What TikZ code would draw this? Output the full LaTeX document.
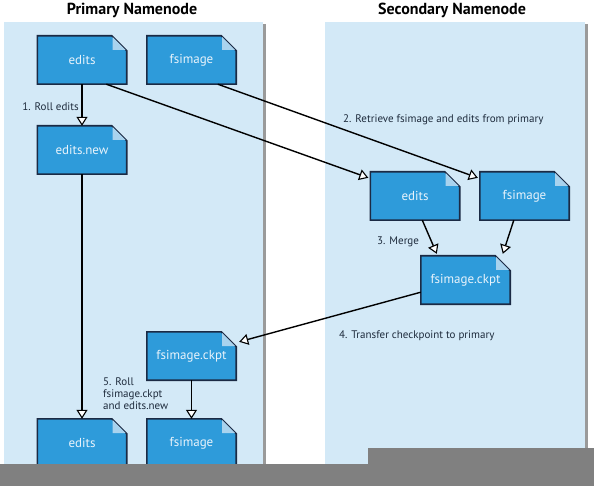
\documentclass[tikz,border=0pt]{standalone}
\usepackage{fontspec}
\setmainfont{PT Sans}
\usetikzlibrary{arrows.meta,calc,backgrounds}
\pgfdeclarelayer{mid}
\pgfsetlayers{background,mid,main}
\definecolor{panelblue}{HTML}{D3E9F7}
\definecolor{boxblue}{HTML}{2E9BDA}
\definecolor{boxline}{HTML}{1B2A44}
\definecolor{foldblue}{HTML}{A9D3EE}
\definecolor{doctext}{HTML}{E8F3FB}
\definecolor{labeltext}{HTML}{1E2B3C}
\definecolor{shadowgray}{HTML}{9A9A9A}
\definecolor{covergray}{HTML}{808080}
\tikzset{
  docbox/.style={minimum width=89pt, minimum height=48pt, inner sep=0pt, text=doctext, font=\fontsize{13}{15}\selectfont},
  lbl/.style={text=labeltext, inner sep=0pt, font=\fontsize{11}{12}\selectfont},
  ttl/.style={text=black, inner sep=0pt, font=\fontsize{16}{18}\selectfont\bfseries},
  arr/.style={draw=black, line width=1.4pt, -{Triangle[width=11pt,length=9pt,fill=white,line width=1.1pt]}}
}
\begin{document}
\begin{tikzpicture}[x=1pt,y=-1pt]
\useasboundingbox (0,0) rectangle (594,486);
\begin{pgfonlayer}{background}
  \fill[white] (0,0) rectangle (594,486);
  \fill[shadowgray] (263,24) rectangle (266,486);
  \fill[panelblue] (4,22) rectangle (263,486);
  \fill[shadowgray] (585,24) rectangle (588,486);
  \fill[panelblue] (325,22) rectangle (585,486);
\end{pgfonlayer}

\node[ttl] (t1) at (132,10) {Primary Namenode};
\node[ttl] (t2) at (452,10) {Secondary Namenode};

\node[docbox] (e1) at (82,60) {edits};
\node[docbox] (f1) at (191.5,60) {fsimage};
\node[docbox] (en) at (82,150) {edits.new};
\node[docbox] (e2) at (415,196) {edits};
\node[docbox] (f2) at (524.5,196) {fsimage};
\node[docbox] (ck2) at (465.5,280) {fsimage.ckpt};
\node[docbox] (ck1) at (191.5,356) {fsimage.ckpt};
\node[docbox] (e3) at (82,443) {edits};
\node[docbox] (f3) at (191.5,443) {fsimage};

\begin{pgfonlayer}{mid}
\foreach \n in {e1,f1,en,e2,f2,ck2,ck1,e3,f3}{
  \filldraw[fill=boxblue, draw=boxline, line width=1.6pt, line join=miter]
    (\n.south west) -- (\n.north west) -- ($(\n.north east)+(-15,0)$) -- ($(\n.north east)+(0,15)$) -- (\n.south east) -- cycle;
  \fill[foldblue] ($(\n.north east)+(-14.2,1)$) -- ($(\n.north east)+(-14.2,14.2)$) -- ($(\n.north east)+(-1,14.2)$) -- cycle;
}
\end{pgfonlayer}

\draw[arr] (e1.south) -- (en.north);
\draw[arr] ($(e1.south west)+(69,0)$) -- ($(e2.north west)+(-2,6)$);
\draw[arr] ($(f1.south west)+(71,0)$) -- ($(f2.north west)+(-2,6)$);
\draw[arr] ($(e2.south west)+(52,0)$) -- ($(ck2.north west)+(16,-2)$);
\draw[arr] ($(f2.south west)+(34,0)$) -- ($(ck2.north west)+(82,-2)$);
\draw[arr] ($(ck2.south west)+(0,-12)$) -- ($(ck1.north east)+(3,10)$);
\draw[arr] (ck1.south) -- (f3.north);
\draw[arr] (en.south) -- (e3.north);

\node[lbl, anchor=east] (l1) at (79,107) {1. Roll edits};
\node[lbl, anchor=west] (l2) at (343,120) {2. Retrieve fsimage and edits from primary};
\node[lbl, anchor=west] (l3) at (377,242) {3. Merge};
\node[lbl, anchor=west] (l4) at (339,336) {4. Transfer checkpoint to primary};
\node[lbl, anchor=north west, align=left] (l5) at (103,378) {5. Roll\\fsimage.ckpt\\and edits.new};

\fill[covergray] (0,464) rectangle (594,486);
\fill[covergray] (368,448) rectangle (594,486);
\end{tikzpicture}
\end{document}
